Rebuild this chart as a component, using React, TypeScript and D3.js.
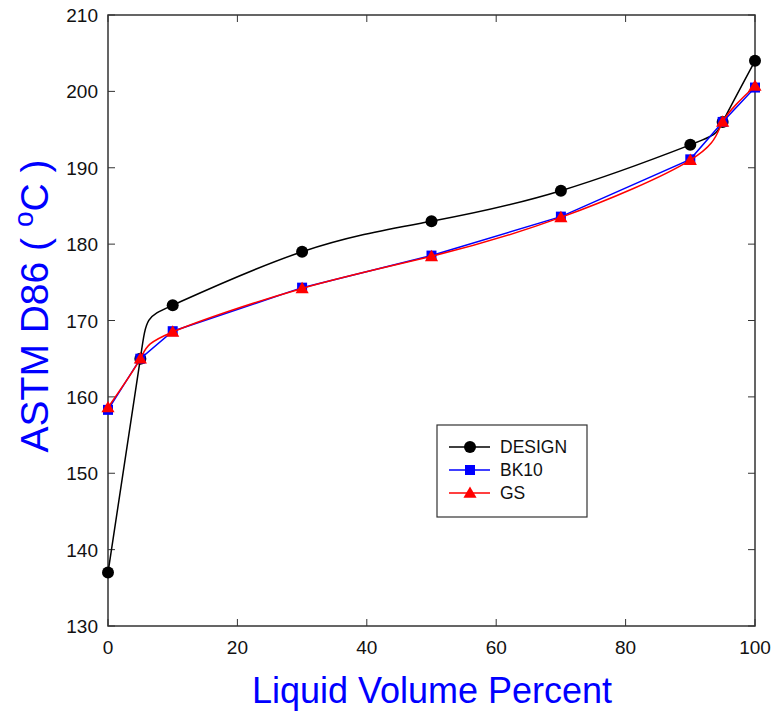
import React from "react"
import * as d3 from "d3"

const xVals = [0, 5, 10, 30, 50, 70, 90, 95, 100]
const designVals = [137, 165, 172, 179, 183, 187, 193, 196, 204]
const bk10Vals = [158.3, 165, 168.6, 174.3, 178.5, 183.6, 191.1, 196, 200.5]
const gsVals = [158.6, 165, 168.5, 174.2, 178.4, 183.5, 191, 196, 200.7]
const xTicks = [0, 20, 40, 60, 80, 100]
const yTicks = [130, 140, 150, 160, 170, 180, 190, 200, 210]

const W = 779
const H = 716
const left = 108
const right = 755
const top = 15
const bottom = 626

const x = d3.scaleLinear().domain([0, 100]).range([left, right])
const y = d3.scaleLinear().domain([130, 210]).range([bottom, top])

const font = "Liberation Sans, Arial, sans-serif"

function linePath(vals: number[], curve: any) {
    const gen = d3
        .line<number>()
        .x((d, i) => x(xVals[i]))
        .y(d => y(d))
        .curve(curve)
    return gen(vals) || ""
}

const tri = d3.symbol().type(d3.symbolTriangle).size(75)()

export default function App() {
    const series = [
        { name: "DESIGN", vals: designVals, color: "#000000", curve: d3.curveNatural, marker: "circle" },
        { name: "BK10", vals: bk10Vals, color: "#0000ff", curve: d3.curveLinear, marker: "square" },
        { name: "GS", vals: gsVals, color: "#ff0000", curve: d3.curveNatural, marker: "triangle" },
    ]

    const marker = (kind: string, cx: number, cy: number, color: string, key: any) => {
        if (kind === "circle") return <circle key={key} cx={cx} cy={cy} r={6} fill={color} />
        if (kind === "square") return <rect key={key} x={cx - 5} y={cy - 5} width={10} height={10} fill={color} />
        return <path key={key} d={tri} transform={`translate(${cx},${cy + 1})`} fill={color} />
    }

    return (
        <svg width={W} height={H} style={{ position: "absolute", left: 0, top: 0 }}>
            <rect x={0} y={0} width={W} height={H} fill="white" />
            {/* frame */}
            <rect x={left} y={top} width={right - left} height={bottom - top} fill="none" stroke="#333" strokeWidth={1.5} />
            {/* ticks */}
            {xTicks.map(t => (
                <g key={"x" + t}>
                    <line x1={x(t)} x2={x(t)} y1={bottom} y2={bottom - 7} stroke="#333" />
                    <line x1={x(t)} x2={x(t)} y1={top} y2={top + 7} stroke="#333" />
                    <text x={x(t)} y={654} textAnchor="middle" fontFamily={font} fontSize={19} fill="#111">{t}</text>
                </g>
            ))}
            {yTicks.map(t => (
                <g key={"y" + t}>
                    <line x1={left} x2={left + 7} y1={y(t)} y2={y(t)} stroke="#333" />
                    <line x1={right} x2={right - 7} y1={y(t)} y2={y(t)} stroke="#333" />
                    <text x={98} y={y(t) + 7} textAnchor="end" fontFamily={font} fontSize={19} fill="#111">{t}</text>
                </g>
            ))}
            {/* series */}
            {series.map(s => (
                <g key={s.name}>
                    <path d={linePath(s.vals, s.curve)} fill="none" stroke={s.color} strokeWidth={1.5} />
                    {s.vals.map((v, i) => marker(s.marker, x(xVals[i]), y(v), s.color, i))}
                </g>
            ))}
            {/* legend */}
            <rect x={437} y={425} width={150} height={92} fill="white" stroke="#333" strokeWidth={1.2} />
            {series.map((s, i) => {
                const ly = 447 + i * 23
                return (
                    <g key={"l" + s.name}>
                        <line x1={449} x2={490} y1={ly} y2={ly} stroke={s.color} strokeWidth={1.5} />
                        {marker(s.marker, 470, ly, s.color, 0)}
                        <text x={500} y={ly + 6} fontFamily={font} fontSize={17.5} fill="#111">{s.name}</text>
                    </g>
                )
            })}
            {/* axis titles */}
            <text x={432} y={703} textAnchor="middle" fontFamily={font} fontSize={36} fill="#0000ff">Liquid Volume Percent</text>
            <text transform="translate(48,306) rotate(-90)" textAnchor="middle" fontFamily={font} fontSize={39} fill="#0000ff">
                ASTM D86 ( <tspan dy={-15} fontSize={28}>o</tspan><tspan dy={15}>C )</tspan>
            </text>
        </svg>
    )
}
